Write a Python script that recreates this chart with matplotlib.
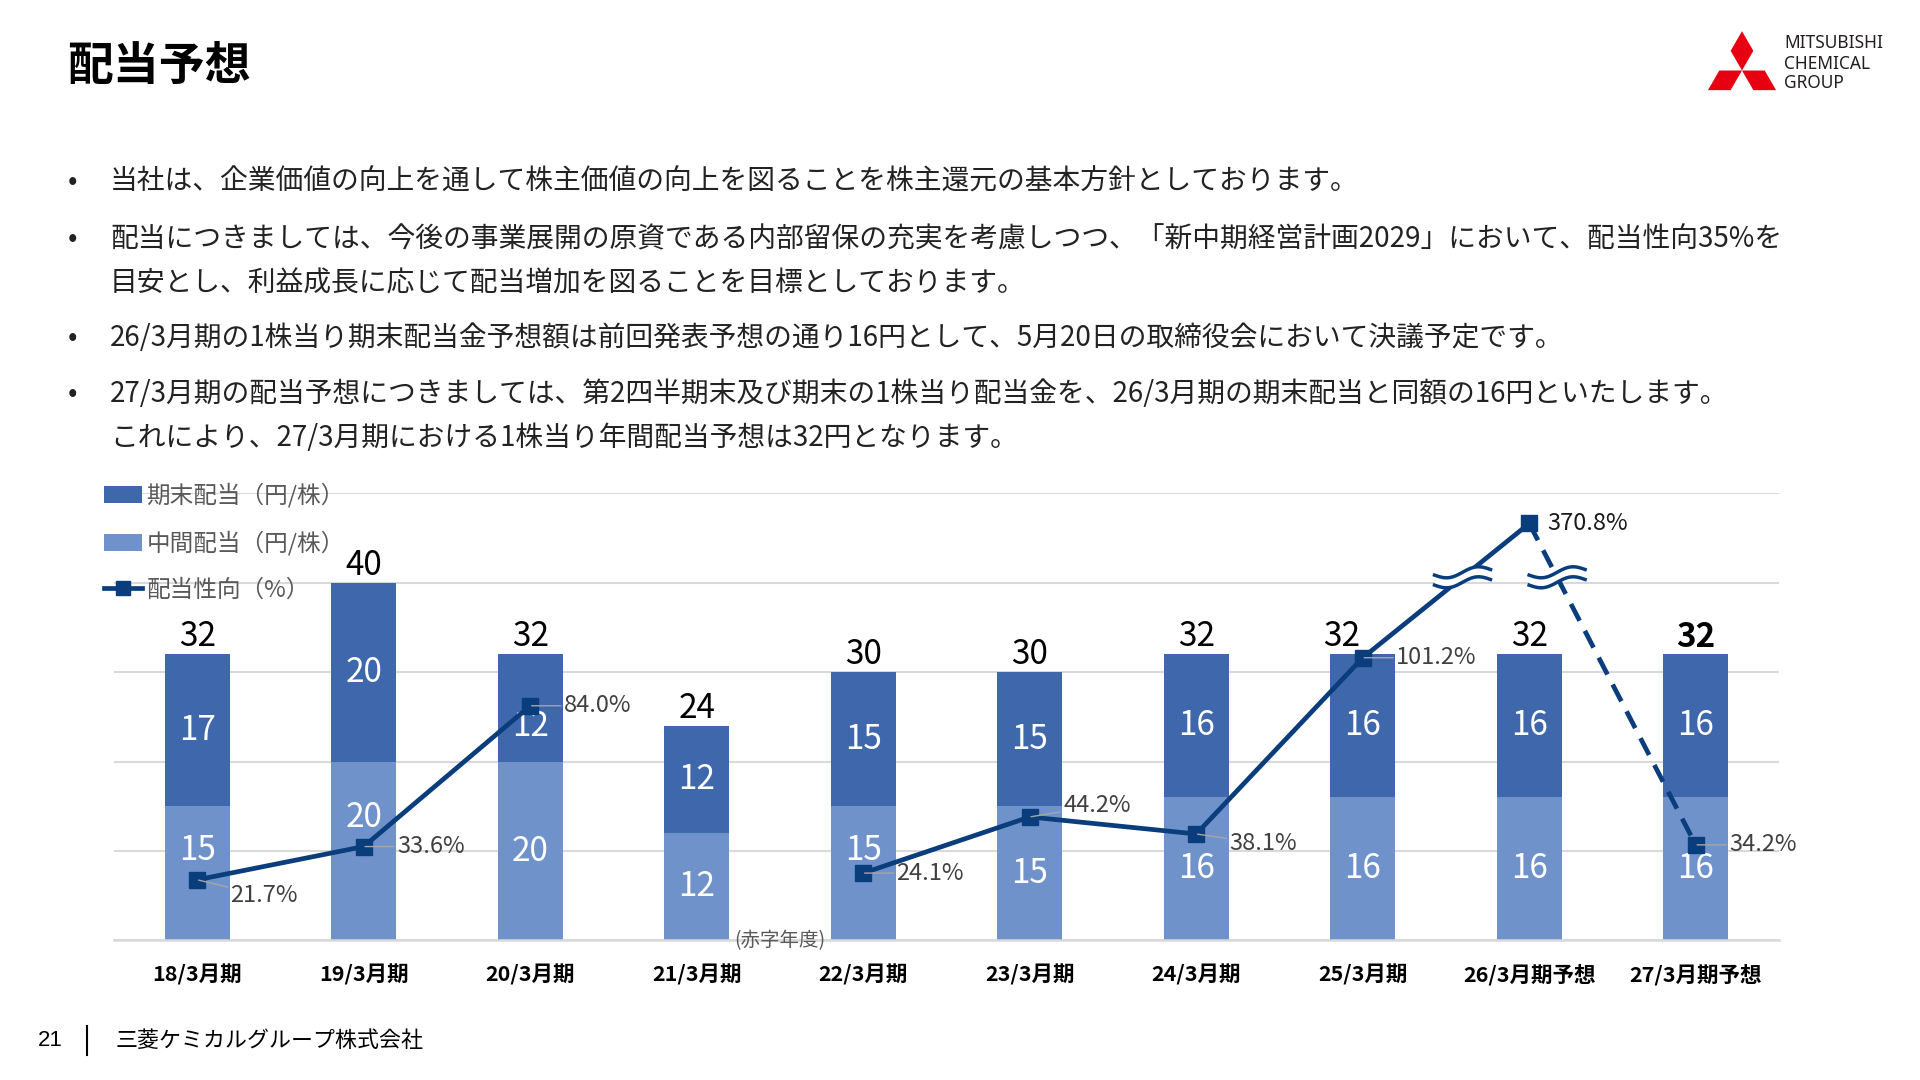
import matplotlib
matplotlib.use('Agg')
import matplotlib.pyplot as plt
import matplotlib.transforms as mtransforms
from matplotlib.patches import Polygon, Patch
from matplotlib.lines import Line2D
import numpy as np

plt.rcParams['font.family'] = ['Noto Sans CJK JP', 'DejaVu Sans']

# data
periods = ['18/3月期', '19/3月期', '20/3月期', '21/3月期', '22/3月期',
           '23/3月期', '24/3月期', '25/3月期', '26/3月期予想', '27/3月期予想']
interim = [15, 20, 20, 12, 15, 15, 16, 16, 16, 16]      # 中間配当
year_end = [17, 20, 12, 12, 15, 15, 16, 16, 16, 16]     # 期末配当
payout = [21.7, 33.6, 84.0, np.nan, 24.1, 44.2, 38.1, 101.2, 370.8, 34.2]

title = '配当予想'
bullet_lines = [
    (True, '当社は、企業価値の向上を通して株主価値の向上を図ることを株主還元の基本方針としております。'),
    (True, '配当につきましては、今後の事業展開の原資である内部留保の充実を考慮しつつ、「新中期経営計画2029」において、配当性向35%を'),
    (False, '目安とし、利益成長に応じて配当増加を図ることを目標としております。'),
    (True, '26/3月期の1株当り期末配当金予想額は前回発表予想の通り16円として、5月20日の取締役会において決議予定です。'),
    (True, '27/3月期の配当予想につきましては、第2四半期末及び期末の1株当り配当金を、26/3月期の期末配当と同額の16円といたします。'),
    (False, 'これにより、27/3月期における1株当り年間配当予想は32円となります。'),
]
bullet_y = [182, 239, 283, 338, 394, 438]

DARK = '#3F67AC'
LIGHT = '#7092CB'
NAVY = '#0A3D7C'
GRID = '#D9D9D9'

# broken axis for the payout ratio
BREAK = 130
SQUEEZE = 0.08


def fwd(v):
    v = np.asarray(v, dtype=float)
    return np.where(v <= BREAK, v, BREAK + (v - BREAK) * SQUEEZE)


def inv(u):
    u = np.asarray(u, dtype=float)
    return np.where(u <= BREAK, u, BREAK + (u - BREAK) / SQUEEZE)


W, H = 1920, 1080
fig = plt.figure(figsize=(19.2, 10.8), dpi=100)

# overlay in pixel coordinates for page decorations
deco = fig.add_axes([0, 0, 1, 1])
deco.set_xlim(0, W)
deco.set_ylim(H, 0)
deco.axis('off')

deco.text(67, 67, title, fontsize=33, fontweight='bold', va='center', ha='left')
for (dot, line), y in zip(bullet_lines, bullet_y):
    if dot:
        deco.text(68, y, '•', fontsize=20, va='center', ha='left', color='#222222')
    deco.text(110, y, line, fontsize=20, va='center', ha='left', color='#222222')

# footer
deco.text(38, 1041, '21', fontsize=16, va='center', ha='left', family='Liberation Sans')
deco.plot([87, 87], [1026, 1055], color='black', lw=1.5)
deco.text(116, 1041, '三菱ケミカルグループ株式会社', fontsize=15.8, va='center', ha='left')

# logo
s = 22.7
ox, oy = 1742, 70.5
r3 = np.sqrt(3)
top = [(0, 0), (s / 2, -s * r3 / 2), (0, -s * r3), (-s / 2, -s * r3 / 2)]
left = [(0, 0), (-s, 0), (-1.5 * s, s * r3 / 2), (-s / 2, s * r3 / 2)]
right = [(x * -1, y) for x, y in left]
for shape in (top, left, right):
    deco.add_patch(Polygon([(ox + x, oy + y) for x, y in shape], closed=True,
                           facecolor='#E60012', edgecolor='none'))
for txt, y in zip(['MITSUBISHI', 'CHEMICAL', 'GROUP'], [43, 64, 83]):
    deco.text(1784, y, txt, fontsize=12.5, family='Noto Sans', va='center', ha='left', color='#231F20')

# chart
ax = fig.add_axes([114 / W, 1 - 940.4 / H, (1779 - 114) / W, (940.4 - 493.5) / H])
x = np.arange(len(periods))
bw = 0.39
ax.bar(x, interim, bw, color=LIGHT, zorder=2)
ax.bar(x, year_end, bw, bottom=interim, color=DARK, zorder=2)
ax.set_xlim(-0.5, len(periods) - 0.5)
ax.set_ylim(0, 50)
ax.set_yticks(range(0, 51, 10))
ax.yaxis.grid(True, color=GRID, lw=1.5, zorder=0)
ax.set_axisbelow(True)
for sp in ['left', 'right', 'top']:
    ax.spines[sp].set_visible(False)
ax.spines['bottom'].set_color(GRID)
ax.spines['bottom'].set_linewidth(1.8)
ax.set_xticks(x)
ax.set_xticklabels(periods, fontsize=15.5, fontweight='bold')

light_nudge = {0: 2.6, 1: 3.7, 4: 2.6}
dark_nudge = {2: -2.1}
total_dx = {7: -0.125}
for i in x:
    lo, hi = interim[i], year_end[i]
    ax.text(i, lo / 2 + light_nudge.get(i, 0), str(lo), color='white', fontsize=24,
            ha='center', va='center', zorder=3)
    ax.text(i, lo + hi / 2 + dark_nudge.get(i, 0), str(hi), color='white', fontsize=24,
            ha='center', va='center', zorder=3)
    ax.annotate(str(lo + hi), (i + total_dx.get(i, 0), lo + hi), xytext=(0, 0),
                textcoords='offset points', ha='center', va='bottom', fontsize=24,
                fontweight='bold' if i == len(periods) - 1 else 'normal', zorder=3)

ax.text(3 + bw / 2 + 0.03, 0, '(赤字年度)', fontsize=14, color='#595959',
        ha='left', va='center')

# payout ratio line
ax2 = ax.twinx()
ax2.set_yscale('function', functions=(fwd, inv))
ax2.set_ylim(0, float(inv(160)))
ax2.set_xlim(-0.5, len(periods) - 0.5)
ax2.axis('off')
# twinx puts the left ticks back on the bar axis
ax.tick_params(axis='y', left=False, right=False, labelleft=False)
ax.tick_params(axis='x', length=0, pad=17)

pay = np.array(payout)
ax2.plot(x[:-1], pay[:-1], color=NAVY, lw=3.4, zorder=4)
ax2.plot(x[-2:], pay[-2:], color=NAVY, lw=3.4, ls=(0, (4, 2.4)), zorder=4)
ax2.plot(x, pay, ls='none', marker='s', ms=11, color=NAVY, zorder=6)

label_dy = {0: -11.5, 5: 8, 6: -7}
for i, v in enumerate(payout):
    if np.isnan(v):
        continue
    if i == 8:
        ax2.annotate(f'{v:.1f}%', (i, v), xytext=(13, 0), textcoords='offset points',
                     ha='left', va='center', fontsize=17, color='#1A1A1A', zorder=7)
        continue
    ax2.annotate(f'{v:.1f}%', (i, v), xytext=(24, label_dy.get(i, 0)),
                 textcoords='offset points', ha='left', va='center', fontsize=17,
                 color='#404040', zorder=7,
                 arrowprops=dict(arrowstyle='-', color='#A6A6A6', lw=1,
                                 shrinkA=0, shrinkB=1))

# break marks where the line crosses the axis break
f = fwd(pay)
for a, b in [(7, 8), (8, 9)]:
    xc = a + (BREAK - f[a]) / (f[b] - f[a])
    tr = fig.dpi_scale_trans + mtransforms.ScaledTranslation(xc, BREAK, ax2.transData)
    t = np.linspace(-0.28, 0.28, 60)
    w = 0.04 * np.sin(t / 0.28 * np.pi) + 0.1 * t
    up, lo = w + 0.05, w - 0.05
    ax2.add_patch(Polygon(np.column_stack([np.r_[t, t[::-1]], np.r_[up, lo[::-1]]]),
                          closed=True, facecolor='white', edgecolor='none',
                          transform=tr, zorder=8))
    ax2.plot(t, up, color=NAVY, lw=2.5, transform=tr, zorder=9)
    ax2.plot(t, lo, color=NAVY, lw=2.5, transform=tr, zorder=9)

# legend
handles = [Patch(facecolor=DARK), Patch(facecolor=LIGHT),
           Line2D([], [], color=NAVY, lw=3.4, marker='s', ms=10)]
labels = ['期末配当（円/株）', '中間配当（円/株）', '配当性向（%）']
ax2.legend(handles, labels, loc='upper left', bbox_to_anchor=(104 / W, 1 - 483 / H),
           bbox_transform=fig.transFigure, frameon=False, fontsize=17,
           labelspacing=0.98, handlelength=1.6, handletextpad=0.2,
           borderaxespad=0, borderpad=0, labelcolor='#595959')

fig.savefig('out.png', dpi=100)
